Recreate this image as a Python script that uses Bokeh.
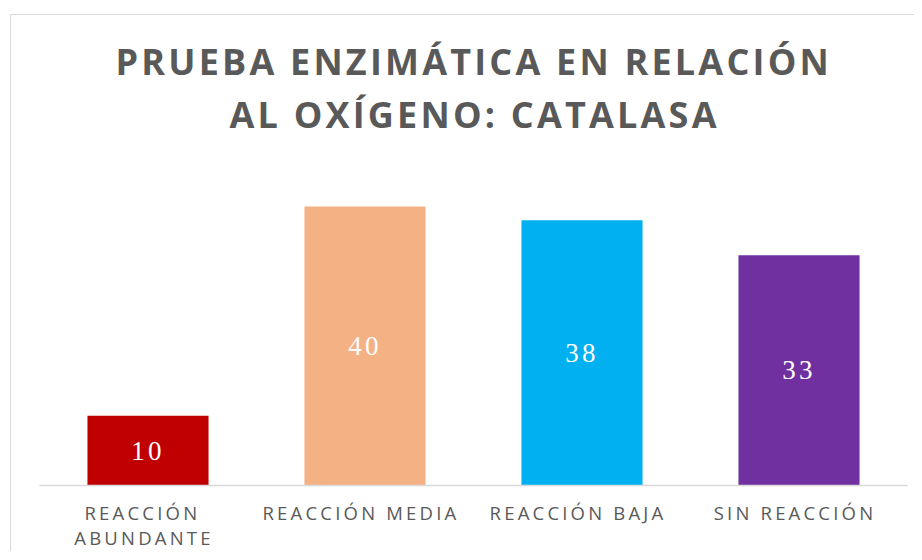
from bokeh.plotting import figure
from bokeh.models import ColumnDataSource, Range1d, Title, LinearAxis, FixedTicker
from bokeh.core.properties import value
from bokeh.embed import file_html
from bokeh.resources import INLINE

categories = ["REACCIÓN\nABUNDANTE", "REACCIÓN MEDIA", "REACCIÓN BAJA", "SIN REACCIÓN"]
values = [10, 40, 38, 33]
colors = ["#C00000", "#F4B183", "#00B0F0", "#7030A0"]
title_lines = ["PRUEBA ENZIMÁTICA EN RELACIÓN", "AL OXÍGENO: CATALASA"]

LS = 3.2  # letter spacing in px
W, H = 904, 537
BL, BR = 28, 8
n = len(categories)
px_per_cat = (W - BL - BR) / n
xpos = [i + 0.5 for i in range(n)]

src = ColumnDataSource(dict(
    x=xpos,
    val=values,
    mid=[v / 2 for v in values],
    lbl=[str(v) for v in values],
    color=colors,
    xoff=[-len(str(v)) * LS / 2 for v in values],
))

p = figure(
    x_range=Range1d(0, n), y_range=Range1d(0, 45),
    width=W, height=H,
    output_backend="svg", toolbar_location=None,
    x_axis_location=None, y_axis_location=None,
    min_border_left=BL, min_border_right=BR, min_border_top=156, min_border_bottom=66,
    margin=(14, 0, 0, 10),
    styles={"border-top": "1px solid #d9d9d9", "border-left": "1px solid #d9d9d9",
            "letter-spacing": f"{LS}px"},
)
p.outline_line_color = None
p.grid.grid_line_color = None

p.vbar(x="x", top="val", width=0.558, color="color", source=src, line_color=None)
p.text(x="x", y="mid", text="lbl", source=src, text_align="center", text_baseline="middle",
       x_offset="xoff",
       text_color="white", text_font=value("Liberation Serif"), text_font_size="27px")

# title: second line closest to the frame, first line above it
# (left-aligned with offsets so that the letter-spaced lines end up centred)
title_styles = [(1, 65, 190), (0, -61, 76)]  # (line index, standoff, left offset)
for idx, standoff, off in title_styles:
    p.add_layout(Title(text=title_lines[idx], align="left", text_font="Open Sans",
                       text_font_style="bold", text_font_size="36px",
                       text_line_height=1.0, offset=off,
                       text_color="#595959", standoff=standoff), "above")

# category labels, nudged to compensate letter spacing
ticks = []
overrides = {}
for xc, c in zip(xpos, categories):
    longest = max(len(s) for s in c.split("\n"))
    t = xc - (longest * LS / 2 + 4) / px_per_cat
    ticks.append(t)
    overrides[t] = c

ax = LinearAxis(ticker=FixedTicker(ticks=ticks), major_label_overrides=overrides)
ax.axis_line_color = "#d9d9d9"
ax.axis_line_width = 1.5
ax.major_tick_line_color = None
ax.major_tick_out = 0
ax.major_tick_in = 0
ax.minor_tick_line_color = None
ax.minor_tick_out = 0
ax.major_label_text_font = "Open Sans"
ax.major_label_text_font_size = "18.5px"
ax.major_label_text_color = "#595959"
ax.major_label_standoff = 14
ax.major_label_text_line_height = 1.0
p.add_layout(ax, "below")

open("out.html", "w").write(file_html(p, INLINE))
